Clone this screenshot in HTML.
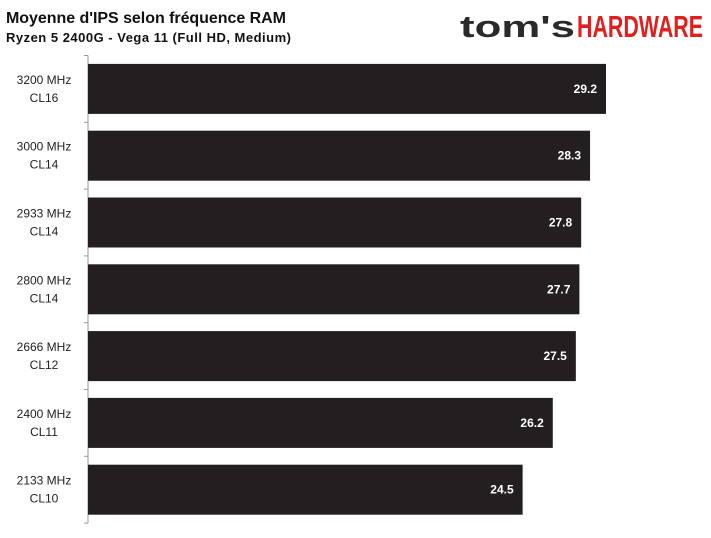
<!DOCTYPE html>
<html><head><meta charset="utf-8"><style>
body{margin:0;background:#fff;width:711px;height:533px;overflow:hidden;font-family:"Liberation Sans",sans-serif}
</style></head><body>
<svg width="711" height="533">
<text x="6" y="23" font-size="16" font-weight="bold" fill="#111" textLength="280">Moyenne d'IPS selon fréquence RAM</text>
<text x="6" y="42" font-size="13" font-weight="bold" fill="#111" textLength="285">Ryzen 5 2400G - Vega 11 (Full HD, Medium)</text>
<g>
<text x="460" y="37" font-size="31" font-weight="bold" fill="#2a2a2a" textLength="115" lengthAdjust="spacingAndGlyphs">tom's</text>
<text x="577" y="37" font-size="31" font-weight="bold" fill="#e0201f" textLength="126" lengthAdjust="spacingAndGlyphs">HARDWARE</text>
</g>
<g id="plot"></g>
</svg>
<script>
const categories=["3200 MHz|CL16","3000 MHz|CL14","2933 MHz|CL14","2800 MHz|CL14","2666 MHz|CL12","2400 MHz|CL11","2133 MHz|CL10"];
const values=[29.2,28.3,27.8,27.7,27.5,26.2,24.5];
const valueLabels=["29.2","28.3","27.8","27.7","27.5","26.2","24.5"];
const NS="http://www.w3.org/2000/svg";
const g=document.getElementById('plot');
const x0=88,scale=17.74,top0=55.5,step=66.8,barH=50;
const xs=v=>x0+v*scale;
function mk(t,a){const e=document.createElementNS(NS,t);for(const k in a)e.setAttribute(k,a[k]);g.appendChild(e);return e;}
const ax=mk('line',{x1:x0,y1:top0,x2:x0,y2:top0+step*categories.length,stroke:'#999','stroke-width':1});


for(let i=0;i<=categories.length;i++){
 const t=mk('line',{x1:x0-4,x2:x0,y1:top0+i*step,y2:top0+i*step,stroke:'#999'});
 
 
}
categories.forEach((c,i)=>{
 const y=top0+i*step+(step-barH)/2;
 const r=mk('rect',{x:x0,y:y,width:xs(values[i])-x0,height:barH,fill:'#231f20'});
 
 
 const parts=c.split('|');
 const l=mk('text',{x:44,y:y+20,'font-size':12,'text-anchor':'middle',fill:'#222'});
 
 
 l.innerHTML='<tspan x="44">'+parts[0]+'</tspan><tspan x="44" dy="18">'+parts[1]+'</tspan>';
 const v=mk('text',{x:xs(values[i])-9,y:y+29,'font-size':12,'font-weight':'bold','text-anchor':'end',fill:'#fff'});
 v.textContent=valueLabels[i];
 
 
});
</script>
</body></html>
